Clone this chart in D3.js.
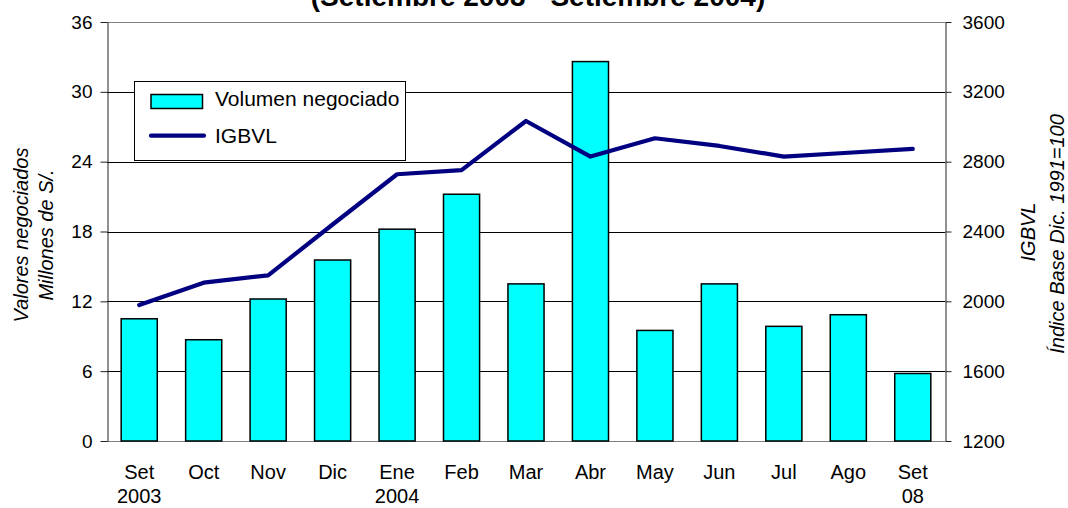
<!DOCTYPE html>
<html><head><meta charset="utf-8">
<script src="https://cdn.jsdelivr.net/npm/d3@7"></script>
<style>
body{margin:0;background:#fff}
svg{display:block}
text{font-family:"Liberation Sans",Arial,sans-serif;fill:#000}
</style>
</head><body><svg id="c" width="1068" height="508"></svg>
<script>
const months = ["Set","Oct","Nov","Dic","Ene","Feb","Mar","Abr","May","Jun","Jul","Ago","Set"];
const years = ["2003","","","","2004","","","","","","","","08"];
const volumen = [10.5,8.7,12.2,15.55,18.2,21.2,13.5,32.6,9.5,13.5,9.85,10.85,5.8];
const igbvl = [1979,2107,2149,2440,2728,2752,3033,2829,2934,2890,2829,2851,2873];
const leftTicks = [0,6,12,18,24,30,36];
const rightTicks = [1200,1600,2000,2400,2800,3200,3600];
const title = "(Setiembre 2003 - Setiembre 2004)";
const legendLabels = ["Volumen negociado","IGBVL"];

const L=107,R=945,T=22,B=441;
const svg = d3.select("#c");
const idx = d3.range(months.length);
const x = d3.scaleBand().domain(idx).range([L,R]).paddingInner(0.44).paddingOuter(0.22);
const yL = d3.scaleLinear().domain([0,36]).range([B,T]);
const yR = d3.scaleLinear().domain([1200,3600]).range([B,T]);

// title
svg.append("text").attr("x",538).attr("y",6).attr("text-anchor","middle")
  .attr("font-weight","bold").attr("font-size",28).text(title);

// gridlines
svg.append("g").selectAll("line").data(leftTicks).join("line")
  .attr("x1",L).attr("x2",R)
  .attr("y1",d=>Math.round(yL(d))+0.5).attr("y2",d=>Math.round(yL(d))+0.5)
  .attr("stroke",d=>(d===0||d===36)?"#808080":"#000").attr("stroke-width",1);

// bars
svg.append("g").selectAll("rect").data(volumen).join("rect")
  .attr("x",(d,i)=>x(i)).attr("width",x.bandwidth())
  .attr("y",d=>yL(d)).attr("height",d=>B-yL(d))
  .attr("fill","#00FFFF").attr("stroke","#000").attr("stroke-width",1.5);

// axes
const axL = svg.append("g").attr("transform",`translate(${L+0.5},0)`)
  .call(d3.axisLeft(yL).tickValues(leftTicks).tickFormat(d3.format("d")).tickSize(7).tickPadding(8).tickSizeOuter(0));
const axR = svg.append("g").attr("transform",`translate(${R+0.5},0)`)
  .call(d3.axisRight(yR).tickValues(rightTicks).tickFormat(d3.format("d")).tickSize(6).tickPadding(11).tickSizeOuter(0));
[axL,axR].forEach(g=>{
  g.selectAll("text").attr("font-size",19).attr("font-family",'"Liberation Sans",Arial,sans-serif').attr("fill","#000");
  g.selectAll("line,path").attr("stroke","#222");
});

// line
const line = d3.line().x((d,i)=>x(i)+x.bandwidth()/2).y(d=>yR(d));
svg.append("path").datum(igbvl).attr("d",line).attr("fill","none")
  .attr("stroke","#000080").attr("stroke-width",4.2)
  .attr("stroke-linecap","round").attr("stroke-linejoin","round");

// x labels
const xl = svg.append("g");
xl.selectAll("text.m").data(months).join("text").attr("class","m")
  .attr("x",(d,i)=>x(i)+x.bandwidth()/2).attr("y",479).attr("text-anchor","middle")
  .attr("font-size",20).text(d=>d);
xl.selectAll("text.y").data(years).join("text").attr("class","y")
  .attr("x",(d,i)=>x(i)+x.bandwidth()/2).attr("y",503).attr("text-anchor","middle")
  .attr("font-size",20).text(d=>d);

// axis titles
const lt = svg.append("g").attr("font-style","italic").attr("font-size",20).attr("text-anchor","middle");
lt.append("text").attr("transform","translate(28,235) rotate(-90)").text("Valores negociados");
lt.append("text").attr("transform","translate(53,235) rotate(-90)").text("Millones de S/.");
lt.append("text").attr("transform","translate(1035,232) rotate(-90)").text("IGBVL");
lt.append("text").attr("transform","translate(1064,234) rotate(-90)").text("Índice Base Dic. 1991=100");

// legend
const lg = svg.append("g");
lg.append("rect").attr("x",134.5).attr("y",81.5).attr("width",271).attr("height",79)
  .attr("fill","#fff").attr("stroke","#000").attr("stroke-width",1);
lg.append("rect").attr("x",151).attr("y",94.5).attr("width",51.5).attr("height",14)
  .attr("fill","#00FFFF").attr("stroke","#000").attr("stroke-width",1.5);
lg.append("line").attr("x1",151).attr("x2",204).attr("y1",135.7).attr("y2",135.7)
  .attr("stroke","#000080").attr("stroke-width",4.2).attr("stroke-linecap","round");
lg.append("text").attr("x",215).attr("y",106).attr("font-size",21).text(legendLabels[0]);
lg.append("text").attr("x",215).attr("y",143).attr("font-size",21).text(legendLabels[1]);
</script>
</body></html>
